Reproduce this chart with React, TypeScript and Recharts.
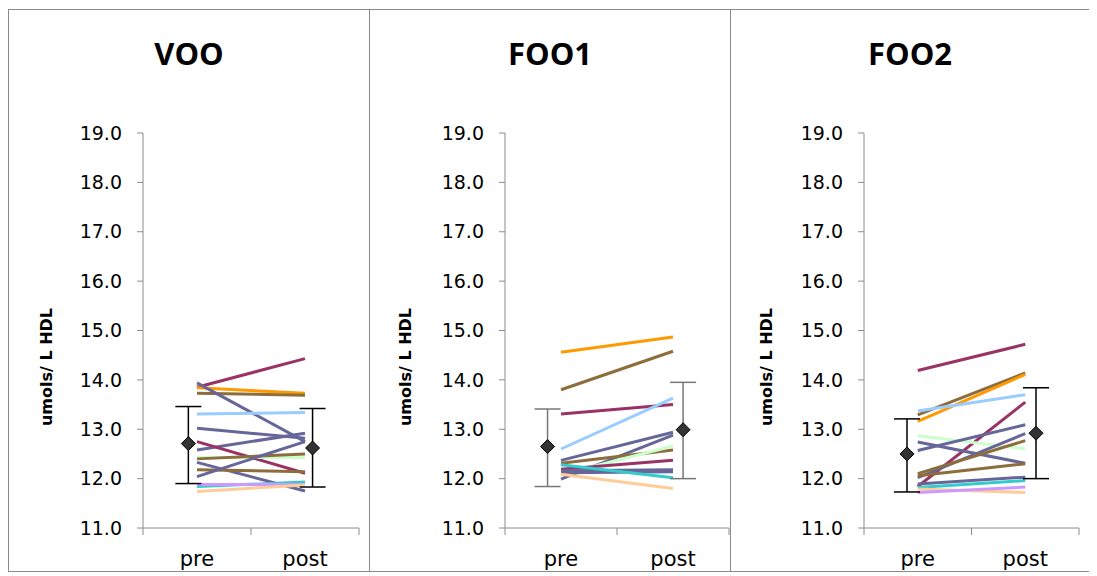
import React from 'react';
import { ComposedChart, Line, XAxis, YAxis, ErrorBar } from 'recharts';

// ---- categories / ticks ----
const categories = ['pre', 'post'];
const yTicks = [11, 12, 13, 14, 15, 16, 17, 18, 19];
const yLabel = 'umols/ L HDL';

// ---- palette ----
const M = '#993366';
const O = '#FF9900';
const B = '#8C6D3B';
const P = '#666699';
const LB = '#99CCFF';
const LG = '#CCFFCC';
const T = '#33CCCC';
const L = '#CC99FF';
const PE = '#FFCC99';

// ---- VOO ----
const vooPre = [13.85, 13.84, 13.73, 13.94, 13.31, 13.02, 12.58, 12.75, 12.43, 12.40, 12.33, 12.18, 12.04, 11.84, 11.88, 11.74];
const vooPost = [14.43, 13.73, 13.69, 12.75, 13.34, 12.82, 12.92, 12.11, 12.43, 12.50, 11.75, 12.14, 12.75, 11.93, 11.88, 11.87];
const vooColors = [M, O, B, P, LB, P, P, M, LG, B, P, B, P, T, L, PE];
const vooMean = [12.71, 12.62];
const vooLow = [11.9, 11.83];
const vooHigh = [13.46, 13.42];
const vooMeanX = [0.92, 2.07];

// ---- FOO1 ----
const foo1Pre = [14.56, 13.8, 13.31, 12.6, 12.37, 11.99, 12.31, 12.08, 12.19, 12.16, 12.12, 12.28, 12.09];
const foo1Post = [14.87, 14.58, 13.5, 13.63, 12.94, 12.88, 12.58, 12.66, 12.37, 12.18, 12.14, 12.02, 11.8];
const foo1Colors = [O, B, M, LB, P, P, B, LG, M, P, P, T, PE];
const foo1Mean = [12.65, 12.99];
const foo1Low = [11.84, 12.0];
const foo1High = [13.41, 13.95];
const foo1MeanX = [0.88, 2.09];

// ---- FOO2 ----
const foo2Pre = [14.19, 13.29, 13.16, 13.37, 11.84, 12.87, 12.74, 12.57, 12.02, 12.1, 12.06, 11.89, 11.82, 11.79, 11.72];
const foo2Post = [14.72, 14.14, 14.11, 13.7, 13.55, 12.6, 12.31, 13.09, 12.91, 12.77, 12.3, 12.03, 11.96, 11.72, 11.83];
const foo2Colors = [M, B, O, LB, M, LG, P, P, P, B, B, P, T, PE, L];
const foo2Mean = [12.5, 12.92];
const foo2Low = [11.73, 12.0];
const foo2High = [13.21, 13.84];
const foo2MeanX = [0.9, 2.1];

type PanelCfg = {
  title: string;
  pre: number[];
  post: number[];
  colors: string[];
  mean: number[];
  low: number[];
  high: number[];
  meanX: number[];
  errColor: string;
  left: number;
  width: number;
  plotLeft: number;
  rightMargin: number;
  labelX: number;
};

const BORDER = '#8a8a8a';
const AXIS = '#8c8c8c';
const PANEL_H = 563;

function XTick(props: any) {
  const { x, y, payload } = props;
  const v = payload.value;
  if (v === 1 || v === 2) {
    return (
      <text x={x} y={y + 38} textAnchor="middle" fontSize={21} fontFamily="DejaVu Sans" fill="#000">
        {categories[v - 1]}
      </text>
    );
  }
  return <line x1={x} y1={y} x2={x} y2={y + 7} stroke={AXIS} strokeWidth={1} />;
}

function diamond(p: any) {
  const { cx, cy, index } = p;
  if (cx == null || cy == null) return <g key={`d${index}`} />;
  const r = 7;
  return (
    <path
      key={`d${index}`}
      d={`M${cx},${cy - r}L${cx + r},${cy}L${cx},${cy + r}L${cx - r},${cy}Z`}
      fill="#333"
      stroke="#000"
      strokeWidth={1}
    />
  );
}

function Panel({ cfg }: { cfg: PanelCfg }) {
  const inner = cfg.width - 2;
  const innerH = PANEL_H - 2;
  const lines = cfg.pre.map((p, i) => [
    { x: 1, y: p },
    { x: 2, y: cfg.post[i] },
  ]);
  const meanData = cfg.mean.map((m, i) => ({
    x: cfg.meanX[i],
    y: m,
    err: [m - cfg.low[i], cfg.high[i] - m],
  }));
  return (
    <div
      style={{
        position: 'absolute',
        left: cfg.left,
        top: 1,
        width: cfg.width,
        height: PANEL_H,
        boxSizing: 'border-box',
        border: `1px solid ${BORDER}`,
        overflow: 'hidden',
        background: '#fff',
      }}
    >
      <div
        style={{
          position: 'absolute',
          left: 0,
          width: inner,
          top: 23,
          textAlign: 'center',
          fontFamily: '"Open Sans", sans-serif',
          fontWeight: 700,
          fontSize: 31,
          lineHeight: '40px',
        }}
      >
        {cfg.title}
      </div>
      <div
        style={{
          position: 'absolute',
          left: cfg.labelX,
          top: 357,
          transform: 'translate(-50%, -50%) rotate(-90deg)',
          whiteSpace: 'nowrap',
          fontFamily: '"DejaVu Sans", sans-serif',
          fontWeight: 700,
          fontSize: 16,
          lineHeight: '16px',
        }}
      >
        {yLabel}
      </div>
      <ComposedChart
        width={inner}
        height={innerH}
        margin={{ top: 123, right: cfg.rightMargin, bottom: 0, left: 0 }}
        style={{ position: 'absolute', left: 0, top: 0 }}
      >
        <XAxis
          type="number"
          dataKey="x"
          domain={[0.5, 2.5]}
          ticks={[0.5, 1, 1.5, 2, 2.5]}
          interval={0}
          allowDataOverflow
          tickLine={false}
          tickSize={0}
          tickMargin={0}
          height={43}
          axisLine={{ stroke: AXIS }}
          tick={(p: any) => <XTick {...p} />}
        />
        <YAxis
          type="number"
          dataKey="y"
          domain={[11, 19]}
          ticks={yTicks}
          interval={0}
          allowDataOverflow
          width={cfg.plotLeft}
          tickSize={6}
          tickMargin={15}
          axisLine={{ stroke: AXIS }}
          tickLine={{ stroke: AXIS }}
          tick={{ fill: '#000', fontSize: 19, fontFamily: 'DejaVu Sans' }}
          tickFormatter={(v: number) => v.toFixed(1)}
        />
        {lines.map((d, i) => (
          <Line
            key={`l${i}`}
            data={d}
            dataKey="y"
            stroke={cfg.colors[i]}
            strokeWidth={3}
            dot={false}
            activeDot={false}
            isAnimationActive={false}
          />
        ))}
        <Line
          data={meanData}
          dataKey="y"
          stroke="none"
          dot={diamond}
          activeDot={false}
          isAnimationActive={false}
        >
          <ErrorBar dataKey="err" direction="y" width={13} stroke={cfg.errColor} strokeWidth={1.5} />
        </Line>
      </ComposedChart>
    </div>
  );
}

const panels: PanelCfg[] = [
  {
    title: 'VOO', pre: vooPre, post: vooPost, colors: vooColors,
    mean: vooMean, low: vooLow, high: vooHigh, meanX: vooMeanX, errColor: '#000',
    left: 0, width: 362, plotLeft: 134, rightMargin: 10, labelX: 38,
  },
  {
    title: 'FOO1', pre: foo1Pre, post: foo1Post, colors: foo1Colors,
    mean: foo1Mean, low: foo1Low, high: foo1High, meanX: foo1MeanX, errColor: '#777',
    left: 361, width: 362, plotLeft: 135, rightMargin: 1, labelX: 36,
  },
  {
    title: 'FOO2', pre: foo2Pre, post: foo2Post, colors: foo2Colors,
    mean: foo2Mean, low: foo2Low, high: foo2High, meanX: foo2MeanX, errColor: '#000',
    left: 722, width: 360, plotLeft: 133, rightMargin: 10, labelX: 36,
  },
];

export default function App() {
  return (
    <div style={{ position: 'relative', width: 1082, height: 566, background: '#fff' }}>
      {panels.map((cfg) => (
        <Panel key={cfg.title} cfg={cfg} />
      ))}
    </div>
  );
}
